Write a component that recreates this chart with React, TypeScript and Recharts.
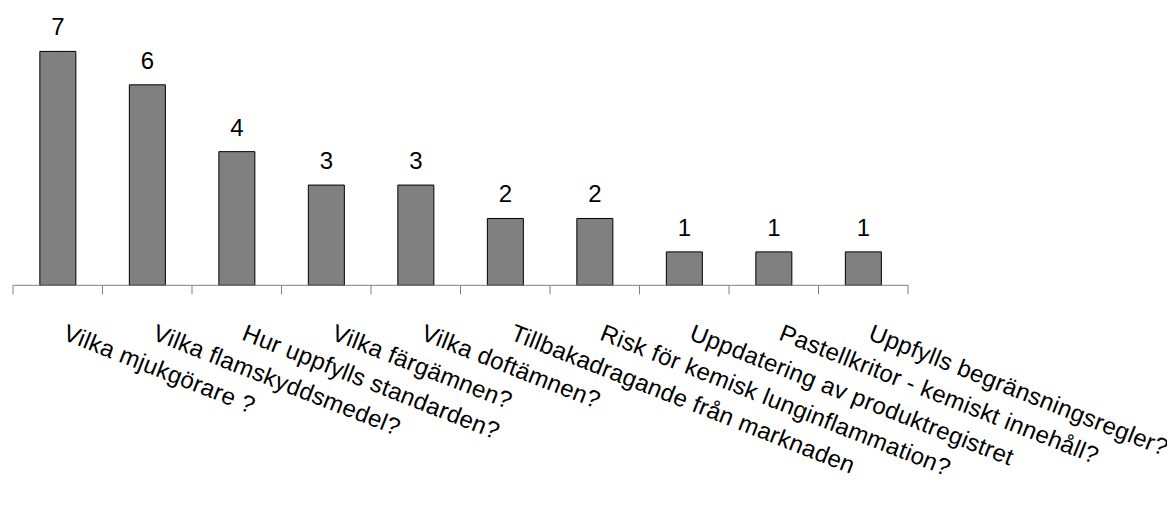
import { BarChart, Bar, XAxis, YAxis, LabelList } from "recharts";

const categories = [
  "Vilka mjukgörare ?",
  "Vilka flamskyddsmedel?",
  "Hur uppfylls standarden?",
  "Vilka färgämnen?",
  "Vilka doftämnen?",
  "Tillbakadragande från marknaden",
  "Risk för kemisk lunginflammation?",
  "Uppdatering av produktregistret",
  "Pastellkritor - kemiskt innehåll?",
  "Uppfylls begränsningsregler?",
];

const counts = [7, 6, 4, 3, 3, 2, 2, 1, 1, 1];

const data = categories.map((name, i) => ({ name, value: counts[i] }));

const CHART_W = 1167;
const CHART_H = 505;
const margin = { top: 10, right: 267, bottom: 0, left: 5 };
const AXIS_H = 227.7;
const band = (CHART_W - margin.left - margin.right) / categories.length;

const FONT = "'Liberation Sans', Arial, sans-serif";

// ticks sit between the categories, labels hang rotated from the centre
function CategoryTick(props: any) {
  const { x, y, payload, index } = props;
  const last = index === categories.length - 1;
  const tx = x + 4;
  const ty = y + 54;
  return (
    <g>
      <line x1={x - band / 2} y1={y} x2={x - band / 2} y2={y + 9} stroke="#808080" strokeWidth={1} />
      {last && (
        <line x1={x + band / 2} y1={y} x2={x + band / 2} y2={y + 9} stroke="#808080" strokeWidth={1} />
      )}
      <text
        x={tx}
        y={ty}
        transform={`rotate(21.5, ${tx}, ${ty})`}
        textAnchor="start"
        fontFamily={FONT}
        fontSize={24}
        letterSpacing={0.3}
        fill="#000"
      >
        {payload.value}
      </text>
    </g>
  );
}

export default function App() {
  return (
    <div style={{ width: CHART_W, height: CHART_H, background: "#fff" }}>
      <BarChart width={CHART_W} height={CHART_H} data={data} margin={margin} barCategoryGap="30%">
        <XAxis
          dataKey="name"
          height={AXIS_H}
          interval={0}
          tickSize={0}
          tickMargin={0}
          tickLine={false}
          axisLine={{ stroke: "#808080", strokeWidth: 1 }}
          tick={<CategoryTick />}
        />
        <YAxis hide domain={[0, 8]} />
        <Bar dataKey="value" fill="#808080" stroke="#000" strokeWidth={1} isAnimationActive={false}>
          <LabelList
            dataKey="value"
            position="top"
            offset={16}
            style={{ fontFamily: FONT, fontSize: 24, fill: "#000" }}
          />
        </Bar>
      </BarChart>
    </div>
  );
}
